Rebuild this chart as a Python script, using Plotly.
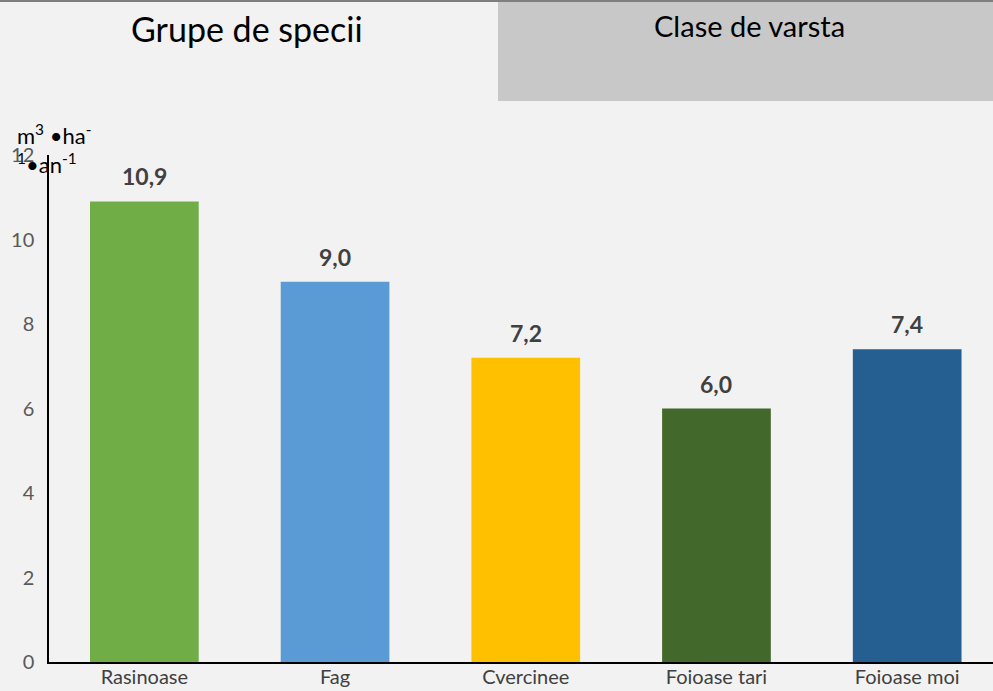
import plotly.graph_objects as go

# Annual volume increment by species group
categories = ["Rasinoase", "Fag", "Cvercinee", "Foioase tari", "Foioase moi"]
values = [10.9, 9.0, 7.2, 6.0, 7.4]
bar_colors = ["#70ad47", "#5b9bd5", "#ffc000", "#43682b", "#255e91"]
y_ticks = [0, 2, 4, 6, 8, 10, 12]

W, H = 993, 691
L, R, T, B = 49, 0, 155, 29
plot_w = W - L - R
plot_h = H - T - B


def px_x(px):
    return (px - L) / plot_w


def px_y(py):
    return (H - B - py) / plot_h


FONT = "Lato, 'Open Sans', sans-serif"

fig = go.Figure(
    go.Bar(
        x=categories,
        y=values,
        marker=dict(color=bar_colors, line=dict(width=0)),
        width=0.57,
        hoverinfo="x+y",
    )
)

# value labels sitting above each bar
value_labels = [
    dict(text=f"{v:.1f}".replace(".", ","), x=c, y=v, xref="x", yref="y",
         xanchor="center", yanchor="bottom", yshift=9, showarrow=False,
         font=dict(family=FONT, size=23, color="#404040", weight="bold"))
    for c, v in zip(categories, values)
]

fig.update_layout(
    width=W,
    height=H,
    margin=dict(l=L, r=R, t=T, b=B, pad=0),
    paper_bgcolor="#f2f2f2",
    plot_bgcolor="#f2f2f2",
    showlegend=False,
    xaxis=dict(
        range=[-0.5, 4.45],
        automargin=False,
        showline=True,
        linecolor="#000000",
        linewidth=2,
        ticks="",
        showgrid=False,
        ticklabelstandoff=-4,
        tickfont=dict(family=FONT, size=20, color="#404040"),
    ),
    yaxis=dict(
        range=[0, 12],
        automargin=False,
        tickvals=y_ticks,
        showline=True,
        linecolor="#000000",
        linewidth=1.5,
        ticks="",
        showgrid=False,
        zeroline=False,
        ticklabelstandoff=9,
        tickfont=dict(family=FONT, size=20, color="#595959"),
    ),
    shapes=[
        # shaded header panel
        dict(type="rect", xref="paper", yref="paper",
             x0=px_x(498), x1=px_x(993), y0=px_y(101), y1=px_y(2),
             fillcolor="#c8c8c8", line=dict(width=0), layer="below"),
        # top rule
        dict(type="line", xref="paper", yref="paper",
             x0=px_x(0), x1=px_x(993), y0=px_y(1), y1=px_y(1),
             line=dict(color="#7f7f7f", width=2)),
    ],
    annotations=value_labels + [
        dict(text="Grupe de specii", xref="paper", yref="paper",
             x=px_x(247), y=px_y(28), xanchor="center", yanchor="middle",
             showarrow=False, font=dict(family=FONT, size=34, color="#000000")),
        dict(text="Clase de varsta", xref="paper", yref="paper",
             x=px_x(749), y=px_y(25), xanchor="center", yanchor="middle",
             showarrow=False, font=dict(family=FONT, size=29, color="#000000")),
        dict(text="m<sup>3</sup> •ha<sup>-</sup><br><sup>1</sup>•an<sup>-1</sup>",
             xref="paper", yref="paper",
             x=px_x(15), y=px_y(118), xanchor="left", yanchor="top",
             align="left", showarrow=False,
             font=dict(family=FONT, size=22, color="#000000")),
    ],
)

fig.write_html("out.html")
